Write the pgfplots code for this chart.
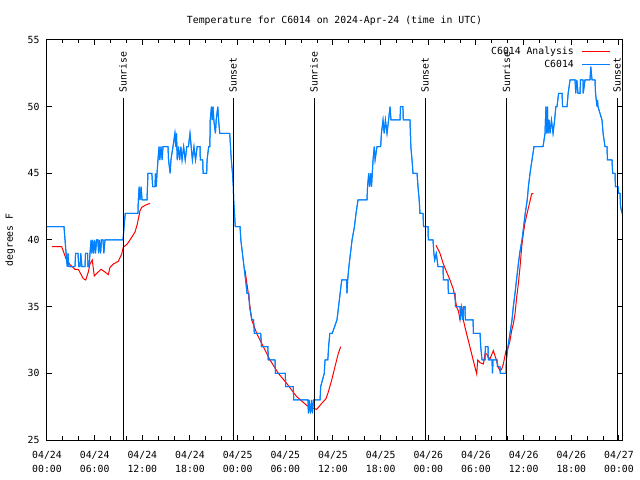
\documentclass[border=0pt]{standalone}
\usepackage{fontspec}
\setmainfont{DejaVu Sans Mono}
\usepackage{pgfplots}
\usepackage{pgfplotstable}
\pgfplotsset{compat=1.18}
\definecolor{cblue}{RGB}{0,128,255}
\definecolor{cred}{RGB}{255,0,0}

\pgfplotstableread{
h T
0 41
2.14 41
2.27 40
2.4 39
2.55 38
2.64 39
2.75 38
3.52 38
3.6 39
3.9 39
4.0 38
4.15 38
4.25 39
4.4 38
4.78 38
4.85 39
5.1 39
5.16 38
5.3 38
5.41 39
5.55 40
5.62 39
5.75 40
5.85 39
6.0 40
6.1 39
6.25 40
6.4 40
6.5 39
6.6 40
6.75 39
6.85 40
7.05 40
7.15 39
7.3 40
9.57 40
9.7 41
9.85 42
11.45 42
11.5 43
11.6 44
11.7 43
11.85 44
11.96 43
12.59 43
12.65 44
12.71 45
13.2 45
13.3 44
13.6 44
13.65 45
13.75 44
13.85 45
13.97 46
14.1 47
14.2 46
14.35 47
14.5 46
14.6 47
15.23 47
15.3 46
15.5 45
15.6 46
15.86 47
16.1 48
16.2 47
16.3 48
16.4 46
16.55 47
16.7 46
16.85 47
17.0 46
17.2 47
17.4 46
17.6 47
17.8 47
18.0 48
18.15 47
18.3 46
18.5 47
18.7 46
18.9 47
19.26 47
19.3 46
19.6 46
19.65 45
20.1 45
20.15 46
20.35 47
20.5 47
20.55 49
20.7 50
20.8 49
20.9 50
21.0 49
21.2 48
21.3 49
21.5 50
21.6 49
21.75 48
23.0 48
23.1 47
23.2 46
23.35 45
23.45 44
23.5 43
23.6 42
23.7 41
24.3 41
24.4 40
24.6 39
24.8 38
25.0 37
25.18 36
25.4 36
25.5 35
25.8 34
26.0 34
26.1 33
26.9 33
27.0 32
27.8 32
27.85 31
28.7 31
28.75 30
30.0 30
30.05 29
31.0 29
31.05 28
32.85 28
32.9 27
33.0 28
33.15 27
33.3 28
33.4 27
33.55 28
34.37 28
34.45 29
34.9 30
35.0 31
35.35 31
35.45 32
35.6 33
35.9 33
36.5 34
36.7 35
36.9 36
37.1 37
37.7 37
37.76 36
37.85 37
38.0 38
38.2 39
38.4 40
38.7 41
38.9 42
39.15 43
40.28 43
40.35 44
40.5 45
40.6 44
40.75 45
40.85 44
41.04 46
41.2 47
41.3 46
41.54 47
42.0 47
42.1 48
42.3 49
42.45 48
42.6 49
42.8 48
43.0 49
43.18 50
43.3 49
43.55 49
44.44 49
44.5 50
44.8 50
44.85 49
45.69 49
45.8 47
45.95 46
46.07 45
46.58 45
46.7 44
46.85 43
46.95 42
47.33 42
47.4 41
47.96 41
48.0 40
48.59 40
48.7 39
48.8 38.5
49.0 39
49.22 38
49.85 38
49.9 37
50.48 37
50.52 36
51.36 36
51.42 35
51.99 35
52.05 34
52.2 35
52.35 34
52.45 35
52.62 35
52.66 34
53.63 34
53.68 33
54.51 33
54.6 32
54.76 31
55.14 31
55.18 32
55.51 32
55.55 31
56.02 31
56.08 30
56.14 31
56.65 31
56.7 30.5
57.02 30.5
57.06 30
57.78 30
57.82 31
58.03 32
58.28 33
58.53 34
58.7 35
58.91 36
59.1 37
59.29 38
59.5 39
59.79 40
60.0 41
60.2 42
60.45 43
60.6 44
60.8 45
61.05 46
61.3 47
62.44 47
62.69 48
62.8 50
62.9 48
63.0 50
63.07 48
63.2 49
63.32 48
63.5 49
63.7 48
63.9 49
64.05 50
64.2 50
64.4 51
64.83 51
64.9 50
65.46 50
65.6 51
65.84 52
66.47 52
66.55 51
66.7 52
66.84 51
67.1 51
67.15 52
67.47 52
67.5 51
67.72 52
68.35 52
68.45 53
68.61 52
68.98 52
69.05 51
69.24 50
69.3 50.5
69.36 50
69.86 49
70.0 48
70.24 47
70.49 47
70.55 46
71.12 46
71.2 45
71.5 45
71.55 44
71.88 44
71.95 43.5
72.13 43.5
72.2 42.5
72.38 42
}\blue

\pgfplotstableread{
h T
0.63 39.5
1.85 39.5
2.48 38.45
2.98 38.1
3.52 37.8
3.94 37.8
4.57 37.1
4.87 37.0
5.2 37.6
5.41 38.2
5.7 38.5
5.95 37.3
6.26 37.5
6.8 37.8
7.3 37.6
7.72 37.4
7.93 37.95
8.35 38.2
8.98 38.4
9.4 38.95
9.6 39.45
10.1 39.7
10.66 40.2
11.08 40.6
11.37 41.2
11.71 42.2
11.92 42.45
12.34 42.6
12.97 42.75
}\redA

\pgfplotstableread{
h T
24.92 37.75
25.34 36
25.77 34
26.4 33
27.23 32
28.07 31
29.12 30
30.17 29.25
31.43 28.25
32.69 27.6
33.32 27.4
33.95 27.3
34.58 27.75
35.12 28.1
35.41 28.6
35.84 29.5
36.25 30.5
36.67 31.5
36.97 32
}\redB

\pgfplotstableread{
h T
48.97 39.6
49.47 39
49.89 38.2
50.31 37.6
50.73 37
51.15 36.3
51.36 35.7
51.57 34.95
51.78 34.7
51.99 34
52.2 35
52.41 34
52.62 33.45
52.83 32.95
53.04 32.45
53.25 31.95
53.46 31.45
53.67 30.95
53.88 30.45
54.09 29.95
54.22 31
54.51 30.8
54.93 30.7
55.14 31.45
55.35 31.45
55.56 31.2
55.77 31.1
56.18 31.7
56.4 31.3
56.6 30.95
56.81 30.45
57.02 30.2
57.23 30.3
57.44 30.7
57.78 31.7
58.07 31.95
58.28 32.45
58.49 33.2
58.7 33.7
58.91 34.45
59.12 35.7
59.33 36.7
59.54 37.95
59.75 39.45
59.96 40.5
60.17 41.3
60.59 42.4
60.8 42.9
61.0 43.45
61.22 43.5
}\redC

\begin{document}
\begin{tikzpicture}[font=\fontsize{9.8bp}{14bp}\selectfont]
\begin{axis}[name=ax,
  scale only axis, width=575bp, height=400bp,
  xmin=0, xmax=72.38, ymin=25, ymax=55,
  xtick={0,6,...,72},
  xticklabels={{04/24\\00:00},{04/24\\06:00},{04/24\\12:00},{04/24\\18:00},{04/25\\00:00},{04/25\\06:00},{04/25\\12:00},{04/25\\18:00},{04/26\\00:00},{04/26\\06:00},{04/26\\12:00},{04/26\\18:00},{04/27\\00:00}},
  xticklabel style={align=center, yshift=-8bp},
  yticklabel style={xshift=-4bp},
  minor x tick num=2,
  ytick={25,30,...,55},
  /pgf/number format/assume math mode=true,
  major tick length=5bp, minor tick length=3.5bp,
  axis line style={line width=1bp},
  tick style={line width=1bp, black},
  title={Temperature for C6014 on 2024-Apr-24 (time in UTC)},
  title style={at={(0.5,1)}, anchor=base, yshift=11bp, inner sep=0pt},
  ylabel={degrees F},
  ylabel style={at={(axis description cs:-0.064,0.5)}, anchor=center},
  legend style={draw=none, fill=none, at={(1,1)}, anchor=north east, xshift=-11bp, yshift=-5bp, inner sep=0pt, row sep=0bp, column sep=6bp, nodes={inner sep=2bp}},
  legend cell align=right,
  legend plot pos=right,
  legend image code/.code={\draw[#1] (0bp,0bp) -- (28bp,0bp);},
]
\addplot[cred, line width=1bp] table[x=h,y=T] {\redA};
\addlegendentry{C6014 Analysis}
\addplot[cblue, line width=1bp] table[x=h,y=T] {\blue};
\addlegendentry{C6014}
\addplot[cred, line width=1bp, forget plot] table[x=h,y=T] {\redB};
\addplot[cred, line width=1bp, forget plot] table[x=h,y=T] {\redC};
\addplot[cblue, line width=1bp, forget plot] table[x=h,y=T] {\blue};
\addplot[black, line width=1bp, forget plot] coordinates {(9.57,25) (9.57,50.65)};
\addplot[black, line width=1bp, forget plot] coordinates {(23.43,25) (23.43,50.65)};
\addplot[black, line width=1bp, forget plot] coordinates {(33.62,25) (33.62,50.65)};
\addplot[black, line width=1bp, forget plot] coordinates {(47.6,25) (47.6,50.65)};
\addplot[black, line width=1bp, forget plot] coordinates {(57.84,25) (57.84,50.65)};
\addplot[black, line width=1bp, forget plot] coordinates {(71.76,25) (71.76,50.65)};
\node[rotate=90, anchor=west, inner sep=0pt] at (axis cs:9.57,51.03) {Sunrise};
\node[rotate=90, anchor=west, inner sep=0pt] at (axis cs:23.43,51.03) {Sunset};
\node[rotate=90, anchor=west, inner sep=0pt] at (axis cs:33.62,51.03) {Sunrise};
\node[rotate=90, anchor=west, inner sep=0pt] at (axis cs:47.6,51.03) {Sunset};
\node[rotate=90, anchor=west, inner sep=0pt] at (axis cs:57.84,51.03) {Sunrise};
\node[rotate=90, anchor=west, inner sep=0pt] at (axis cs:71.76,51.03) {Sunset};
\end{axis}
\pgfresetboundingbox
\path[use as bounding box] ([xshift=-47bp,yshift=-40bp]ax.south west) rectangle ([xshift=18bp,yshift=40bp]ax.north east);
\end{tikzpicture}
\end{document}
